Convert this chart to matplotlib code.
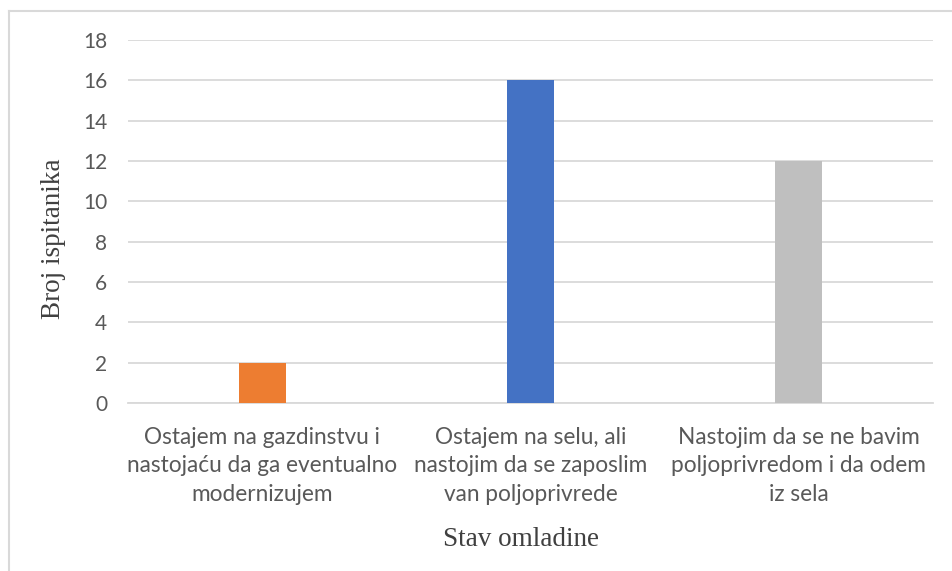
import matplotlib
matplotlib.use("Agg")
import matplotlib.pyplot as plt
from matplotlib.lines import Line2D

# podaci
categories = [
    "Ostajem na gazdinstvu i\nnastojaću da ga eventualno\nmodernizujem",
    "Ostajem na selu, ali\nnastojim da se zaposlim\nvan poljoprivrede",
    "Nastojim da se ne bavim\npoljoprivredom i da odem\niz sela",
]
values = [2, 16, 12]
bar_colors = ["#ED7D31", "#4472C4", "#BFBFBF"]
yticks = [0, 2, 4, 6, 8, 10, 12, 14, 16, 18]

W, H = 953, 571
fig = plt.figure(figsize=(W / 100, H / 100), dpi=100)
ax = fig.add_axes([128 / W, 1 - 403 / H, (933 - 128) / W, (403 - 40) / H])

x = range(len(categories))
ax.bar(x, values, width=0.175, color=bar_colors, zorder=3)

ax.set_xlim(-0.5, 2.5)
ax.set_ylim(0, 18)
ax.set_yticks(yticks)
ax.grid(axis="y", color="#D9D9D9", linewidth=1.3, zorder=0)
for s in ["top", "right", "left"]:
    ax.spines[s].set_visible(False)
ax.spines["bottom"].set_color("#D9D9D9")
ax.spines["bottom"].set_linewidth(1.3)
ax.tick_params(length=0)

ax.set_yticklabels([str(t) for t in yticks], fontsize=15, color="#595959",
                   family="Lato")
ax.tick_params(axis="y", pad=15)
ax.set_xticks(list(x))
ax.set_xticklabels(categories, fontsize=16.3, color="#595959", family="Lato",
                   linespacing=1.45)
ax.tick_params(axis="x", pad=17)

ax.set_ylabel("Broj ispitanika", fontsize=19.5, color="#404040",
              family="Liberation Serif", va="center")
ax.yaxis.set_label_coords(-0.093, 0.452)
ax.set_xlabel("Stav omladine", fontsize=19.5, color="#404040",
              family="Liberation Serif", va="center")
ax.xaxis.set_label_coords(0.488, -0.377)

# okvir
fig.add_artist(Line2D([9.5 / W, 9.5 / W], [0, 1 - 11 / H], color="#D9D9D9",
                      linewidth=1.5, transform=fig.transFigure))
fig.add_artist(Line2D([9.5 / W, 1], [1 - 11 / H, 1 - 11 / H], color="#D9D9D9",
                      linewidth=1.5, transform=fig.transFigure))

fig.savefig("out.png", dpi=100)
